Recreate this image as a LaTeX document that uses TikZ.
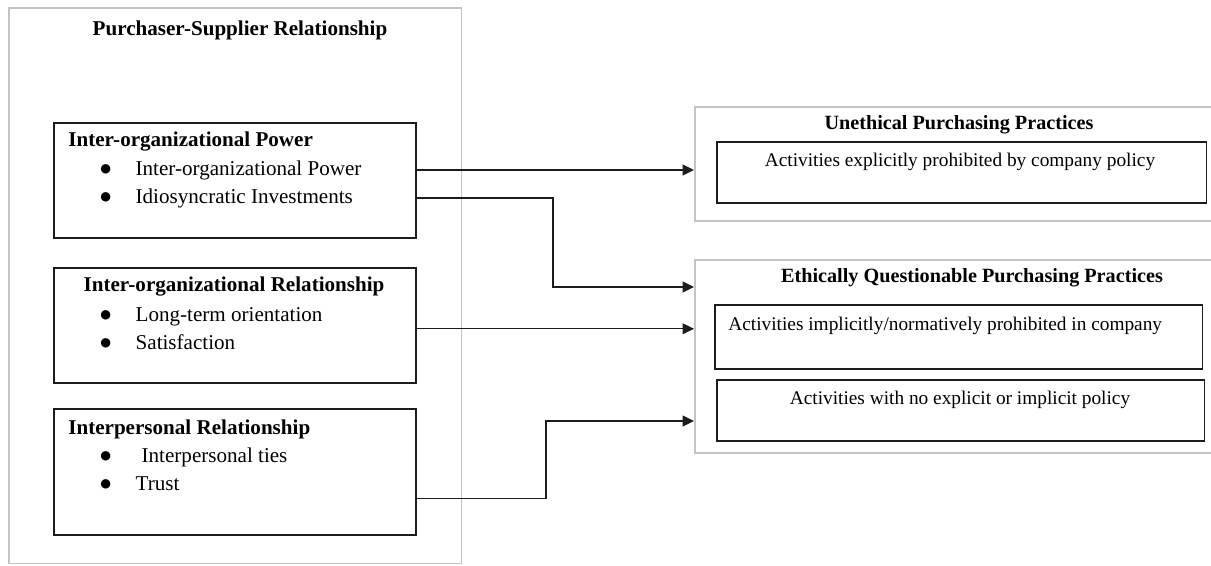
\documentclass[tikz,border=0pt]{standalone}
\usepackage{fontspec}
\setmainfont{Liberation Serif}
\newfontfamily\dotfont{DejaVu Sans}
\usetikzlibrary{arrows.meta,positioning}
\definecolor{groupGray}{RGB}{196,196,196}
\definecolor{boxInk}{RGB}{28,28,28}
\newcommand{\bigdot}{\raisebox{1.6pt}{\dotfont\fontsize{7}{8}\selectfont ●}}
\tikzset{
  groupbox/.style={draw=groupGray, line width=0.9pt, inner sep=0pt, anchor=north west},
  factorbox/.style={draw=boxInk, line width=0.9pt, inner sep=0pt, anchor=north west, minimum width=7.24cm},
  practicebox/.style={draw=boxInk, line width=0.9pt, inner sep=0pt, anchor=north west},
  headtext/.style={font=\fontsize{12}{14}\selectfont\bfseries, inner sep=0pt},
  itemtext/.style={font=\fontsize{12}{14}\selectfont, inner sep=0pt, anchor=west, text height=8.5pt, text depth=2.6pt},
  practicehead/.style={font=\fontsize{11.5}{14}\selectfont\bfseries, inner sep=0pt},
  practicetext/.style={font=\fontsize{11}{13}\selectfont, inner sep=0pt},
  link/.style={-{Triangle[length=6.5pt,width=6.2pt]}, line width=0.6pt, draw=boxInk}
}

\begin{document}
\begin{tikzpicture}[x=0.02cm, y=-0.02cm]
    \useasboundingbox (0,0) rectangle (1211,565);
    % left group
    \node[groupbox, minimum width=9.06cm, minimum height=11.12cm] (supplyRel) at (8,7) {};
    \node[headtext] (supplyHead) at (240,30) {Purchaser-Supplier Relationship};
    \node[factorbox, minimum height=2.3cm] (powbox) at (53,122) {};
    \node[factorbox, minimum height=2.3cm] (relbox) at (53,267) {};
    \node[factorbox, minimum height=2.52cm] (intbox) at (53,408) {};
    % inter-organizational power
    \node[headtext, anchor=west] (powHead) at (68,142) {Inter-organizational Power};
    \node[itemtext] (powA) at (100,170) {\bigdot\hspace{14pt}Inter-organizational Power};
    \node[itemtext] (powB) at (100,198) {\bigdot\hspace{14pt}Idiosyncratic Investments};
    % inter-organizational relationship
    \node[headtext] (relHead) at (234,287) {Inter-organizational Relationship};
    \node[itemtext] (relA) at (100,316) {\bigdot\hspace{14pt}Long-term orientation};
    \node[itemtext] (relB) at (100,344) {\bigdot\hspace{14pt}Satisfaction};
    % interpersonal relationship
    \node[headtext, anchor=west] (intHead) at (68,429) {Interpersonal Relationship};
    \node[itemtext] (intA) at (100,457) {\bigdot\hspace{17.4pt}Interpersonal ties};
    \node[itemtext] (intB) at (100,485) {\bigdot\hspace{14pt}Trust};
    % right groups
    \node[groupbox, minimum width=10.44cm, minimum height=2.28cm] (unethical) at (694,106) {};
    \node[practicehead] (unethHead) at (959,125) {Unethical Purchasing Practices};
    \node[practicebox, minimum width=9.8cm, minimum height=1.22cm] (explicitbox) at (716,141) {};
    \node[practicetext] (explicitText) at (960,162) {Activities explicitly prohibited by company policy};
    \node[groupbox, minimum width=10.44cm, minimum height=3.86cm] (ethical) at (694,259) {};
    \node[practicehead] (ethHead) at (972,278) {Ethically Questionable Purchasing Practices};
    \node[practicebox, minimum width=9.76cm, minimum height=1.28cm] (implicitbox) at (714,304) {};
    \node[practicetext, anchor=west] (implicitText) at (728,326) {Activities implicitly/normatively prohibited in company};
    \node[practicebox, minimum width=9.76cm, minimum height=1.22cm] (nopolicybox) at (716,379) {};
    \node[practicetext] (nopolicyText) at (960,400) {Activities with no explicit or implicit policy};
    % connectors
    \coordinate (bendA) at (553,287);
    \coordinate (bendB) at (546,421);
    \draw[link] (powbox.east |- powA) -- (unethical.west |- powA);
    \draw[link] (powbox.east |- powB) -| (bendA) -- (ethical.west |- bendA);
    \draw[link] ([yshift=-0.07cm]relbox.east) -- ([yshift=-0.07cm]relbox.east -| ethical.west);
    \draw[link] ([yshift=-0.54cm]intbox.east) -| (bendB) -- (ethical.west |- bendB);
\end{tikzpicture}
\end{document}
